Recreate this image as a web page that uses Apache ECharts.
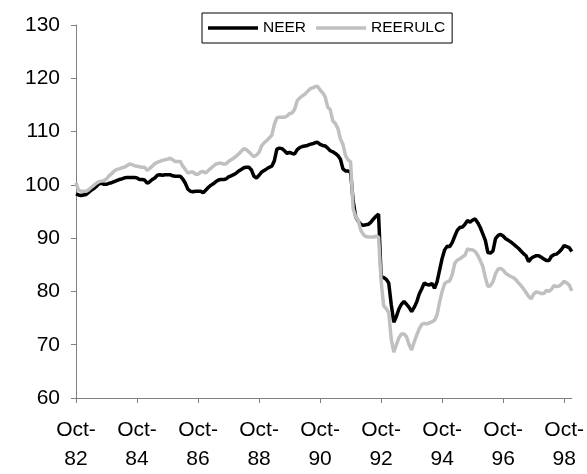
<!DOCTYPE html>
<html>
<head>
<meta charset="utf-8">
<script src="https://cdn.jsdelivr.net/npm/echarts@6/dist/echarts.min.js"></script>
<style>html,body{margin:0;padding:0;background:#fff}#c{width:587px;height:474px}</style>
</head>
<body>
<div id="c"></div>
<script>
// Monthly categories Oct-82 .. Jan-99
const monthNames = ['Jan','Feb','Mar','Apr','May','Jun','Jul','Aug','Sep','Oct','Nov','Dec'];
const categories = [];
for (let k = 0; k < 196; k++) {
  const m = (9 + k) % 12;
  const y = 82 + Math.floor((9 + k) / 12);
  categories.push(monthNames[m] + '-' + String(y % 100).padStart(2, '0'));
}
const yTicks = [60, 70, 80, 90, 100, 110, 120, 130];

const NEER = [
98.3,98.1,98.0,98.1,98.2,98.6,99.0,99.3,99.7,100.2,
100.3,100.1,100.1,100.3,100.4,100.6,100.8,101.0,101.1,101.3,
101.4,101.4,101.4,101.4,101.3,101.0,101.0,100.9,100.3,100.6,
101.0,101.3,101.8,101.9,101.8,101.9,101.9,101.9,101.7,101.6,
101.6,101.6,101.1,100.3,99.2,98.8,98.7,98.8,98.8,98.8,
98.5,99.0,99.5,99.9,100.2,100.6,100.9,101.0,101.0,101.1,
101.5,101.7,101.9,102.2,102.6,102.9,103.2,103.3,103.3,102.8,
101.6,101.3,101.8,102.4,102.7,103.0,103.3,103.5,104.5,106.7,
106.9,106.8,106.4,105.9,106.1,105.9,105.8,106.6,107.0,107.2,
107.3,107.4,107.6,107.7,107.9,108.0,107.6,107.4,107.3,106.9,
106.4,106.2,105.9,105.5,104.8,103.0,102.6,102.6,102.4,97.0,
94.0,93.2,92.6,92.4,92.5,92.6,93.0,93.6,94.1,94.5,
82.8,82.6,82.3,81.6,77.5,74.2,75.3,76.7,77.6,78.1,
77.6,77.0,76.2,77.0,78.0,79.5,80.5,81.6,81.3,81.2,
81.5,80.6,81.8,84.0,86.2,87.8,88.5,88.4,89.2,90.4,
91.5,92.0,92.1,92.6,93.3,93.0,93.4,93.6,92.9,92.0,
90.8,89.6,87.3,87.2,87.6,89.9,90.5,90.7,90.4,89.9,
89.6,89.3,88.9,88.5,88.1,87.6,87.1,86.7,85.6,86.2,
86.5,86.7,86.7,86.4,86.1,85.8,85.8,86.6,86.9,87.0,
87.4,87.9,88.6,88.4,88.2,87.5
];

const REERULC = [
100.4,99.0,98.8,98.8,98.8,99.1,99.5,99.9,100.3,100.6,
100.7,100.8,101.1,101.7,102.1,102.6,102.9,103.0,103.2,103.3,
103.6,103.9,103.8,103.6,103.5,103.4,103.3,103.3,102.7,103.1,
103.5,104.0,104.2,104.4,104.6,104.7,104.8,105.0,104.7,104.4,
104.4,104.4,103.5,102.9,102.2,102.4,102.4,102.0,102.0,102.4,
102.5,102.2,102.7,103.1,103.5,103.9,104.0,104.1,103.9,103.9,
104.4,104.7,105.0,105.4,105.8,106.3,106.8,106.6,106.2,105.7,
105.3,105.6,106.1,107.3,107.9,108.3,108.8,109.3,111.3,112.6,
112.7,112.7,112.7,112.9,113.4,113.5,114.2,115.8,116.3,116.7,
117.0,117.5,118.0,118.2,118.4,118.5,117.8,117.3,116.5,114.6,
114.1,112.0,111.5,110.6,108.6,107.6,105.5,104.7,104.3,95.5,
94.0,93.3,91.5,90.7,90.3,90.2,90.2,90.2,90.4,90.2,
82.0,77.3,76.8,76.0,71.0,68.6,70.0,71.3,72.0,72.0,
71.5,70.0,69.0,70.5,71.8,73.0,73.8,74.0,73.9,74.1,
74.3,74.6,75.6,78.0,80.0,81.5,81.8,82.0,83.2,85.3,
85.9,86.1,86.5,86.8,88.0,87.8,87.8,87.5,86.8,85.8,
84.7,82.6,80.9,81.1,81.8,83.3,84.2,84.3,84.0,83.4,
83.1,82.8,82.6,82.2,81.6,81.1,80.5,79.8,79.1,78.6,
79.5,79.9,79.8,79.6,79.6,80.2,80.0,80.4,81.1,80.9,
81.0,81.4,81.9,81.6,81.2,80.1
];

const chart = echarts.init(document.getElementById('c'), null, {renderer: 'canvas'});
const FONT = 'Liberation Sans, Arial, sans-serif';
chart.setOption({
  animation: false,
  backgroundColor: '#fff',
  grid: {left: 76, right: 14, top: 25, bottom: 71, containLabel: false},
  legend: {
    left: 202, top: 13,
    padding: [6, 7, 6, 6],
    borderColor: '#000', borderWidth: 1,
    icon: 'rect',
    itemWidth: 50, itemHeight: 3.5, itemGap: 10,
    textStyle: {fontFamily: FONT, fontSize: 15.5, color: '#000', lineHeight: 18},
    data: ['NEER', 'REERULC']
  },
  xAxis: {
    type: 'category',
    data: categories,
    boundaryGap: false,
    axisLine: {lineStyle: {color: '#808080', width: 1}},
    axisTick: {interval: 23, length: 5, lineStyle: {color: '#808080'}},
    axisLabel: {
      interval: 23, margin: 17, fontFamily: FONT, fontSize: 21, color: '#000', lineHeight: 29.5,
      formatter: v => v.replace('-', '-\n')
    },
    splitLine: {show: false}
  },
  yAxis: {
    type: 'value',
    min: yTicks[0], max: yTicks[yTicks.length - 1], interval: 10,
    axisLine: {show: true, lineStyle: {color: '#808080', width: 1}},
    axisTick: {show: true, length: 5, lineStyle: {color: '#808080'}},
    axisLabel: {margin: 16, fontFamily: FONT, fontSize: 21, color: '#000'},
    splitLine: {show: false}
  },
  series: [
    {name: 'NEER', type: 'line', data: NEER, symbol: 'none', lineStyle: {color: '#000', width: 3.5}, itemStyle: {color: '#000'}},
    {name: 'REERULC', type: 'line', data: REERULC, symbol: 'none', lineStyle: {color: '#c0c0c0', width: 3.5}, itemStyle: {color: '#c0c0c0'}}
  ]
});
</script>
</body>
</html>
